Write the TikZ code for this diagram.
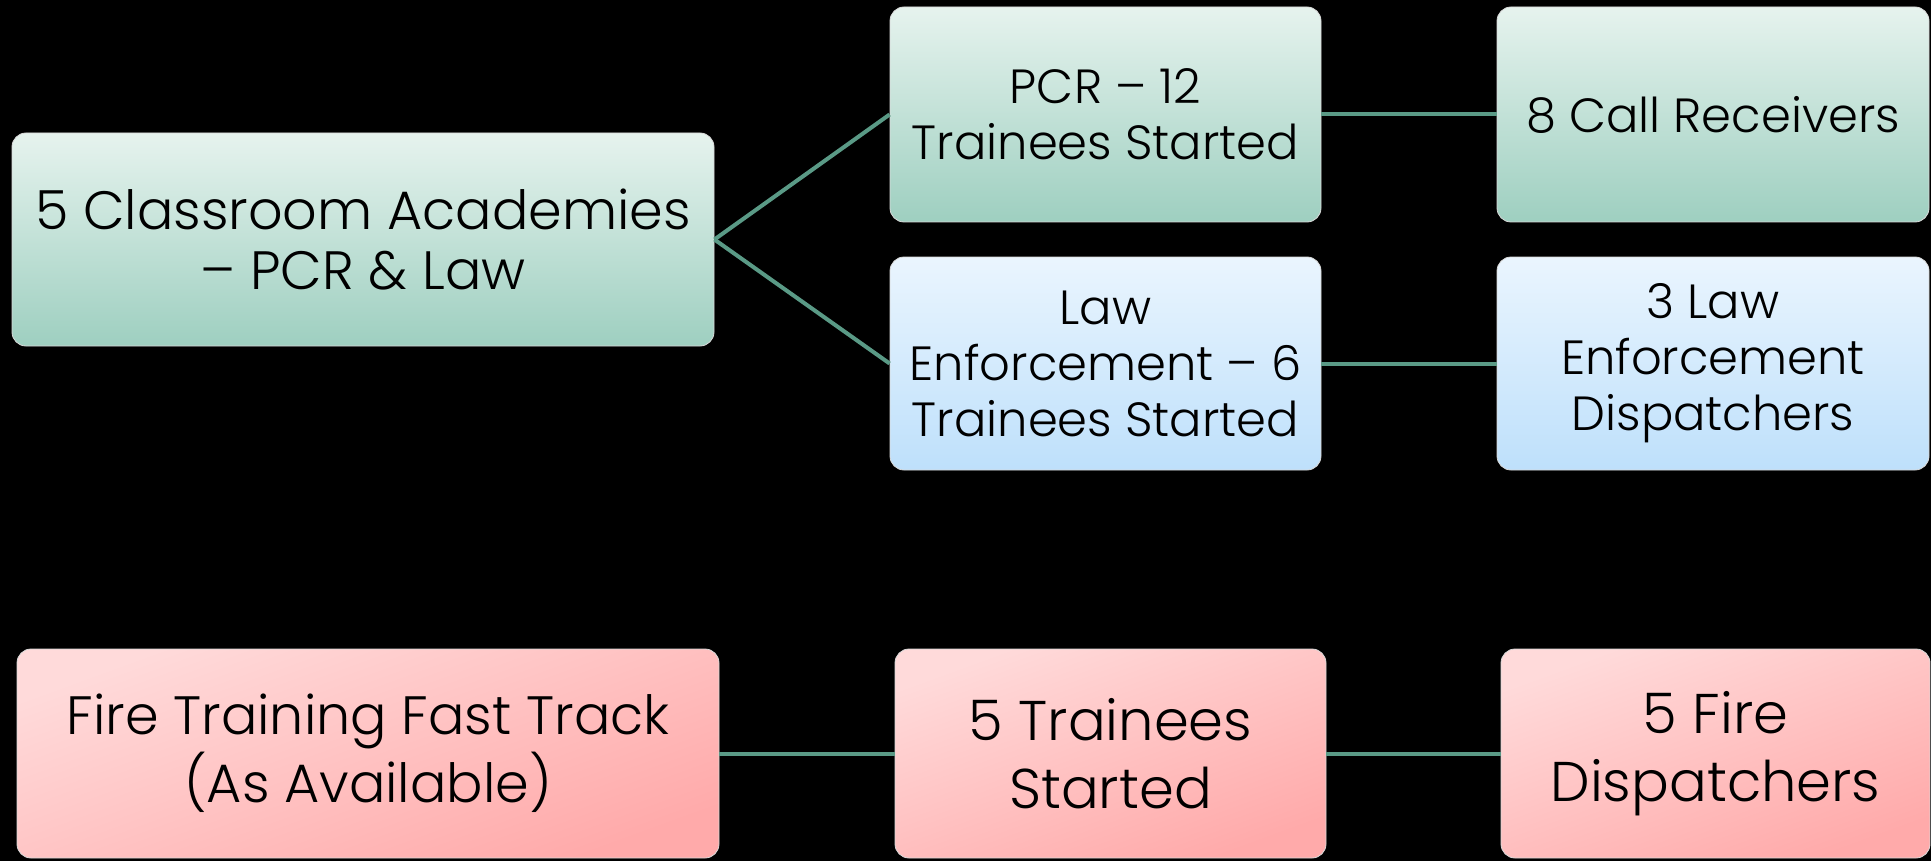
\documentclass[tikz,border=0pt]{standalone}
\usepackage{fontspec}
\setmainfont{Poppins Light}
\begin{document}
\begin{tikzpicture}[x=0.5pt,y=-0.5pt,
  box/.style={rounded corners=7pt, draw=white!85!black, line width=0.4pt, align=center, inner sep=0pt, text=black},
  gbox/.style={box, top color={rgb,255:red,230;green,243;blue,238}, bottom color={rgb,255:red,158;green,207;blue,192}},
  bbox/.style={box, top color={rgb,255:red,234;green,245;blue,254}, bottom color={rgb,255:red,190;green,224;blue,251}},
  rbox/.style={box, top color={rgb,255:red,255;green,218;blue,218}, bottom color={rgb,255:red,255;green,170;blue,170}, shading angle=20},
  conn/.style={draw={rgb,255:red,90;green,154;blue,134}, line width=2pt},
  small/.style={font=\fontsize{24}{28}\selectfont},
  mid/.style={font=\fontsize{27}{30}\selectfont},
  big/.style={font=\fontsize{28}{34}\selectfont}]
\fill[black] (0,0) rectangle (1931,861);
\useasboundingbox (0,0) rectangle (1931,861);
\node[gbox, mid, minimum width=351pt, minimum height=106.5pt] (A) at (363,239.5) {5 Classroom Academies\\– PCR \& Law};
\node[gbox, small, minimum width=215.5pt, minimum height=107.5pt] (B) at (1105.5,114.5) {PCR – 12\\Trainees Started};
\node[gbox, small, minimum width=216pt, minimum height=107.5pt] (C) at (1713,114.5) {8 Call Receivers};
\node[bbox, small, minimum width=215.5pt, minimum height=106.5pt] (D) at (1105.5,363.5) {Law\\Enforcement – 6\\Trainees Started};
\node[bbox, small, minimum width=216pt, minimum height=106.5pt] (E) at (1713,363.5) {3 Law\\Enforcement\\Dispatchers};
\node[rbox, font=\fontsize{27}{34}\selectfont, minimum width=351pt, minimum height=104.5pt] (F) at (368,753.5) {Fire Training Fast Track\\(As Available)};
\node[rbox, big, minimum width=215.5pt, minimum height=104.5pt] (G) at (1110.5,753.5) {5 Trainees\\Started};
\node[rbox, big, minimum width=214.5pt, minimum height=104.5pt] (H) at (1715.5,753.5) {5 Fire\\Dispatchers};
\draw[conn] (A.east) -- (B.west);
\draw[conn] (A.east) -- (D.west);
\draw[conn] (B.east) -- (C.west);
\draw[conn] (D.east) -- (E.west);
\draw[conn] (F.east) -- (G.west);
\draw[conn] (G.east) -- (H.west);
\end{tikzpicture}
\end{document}
